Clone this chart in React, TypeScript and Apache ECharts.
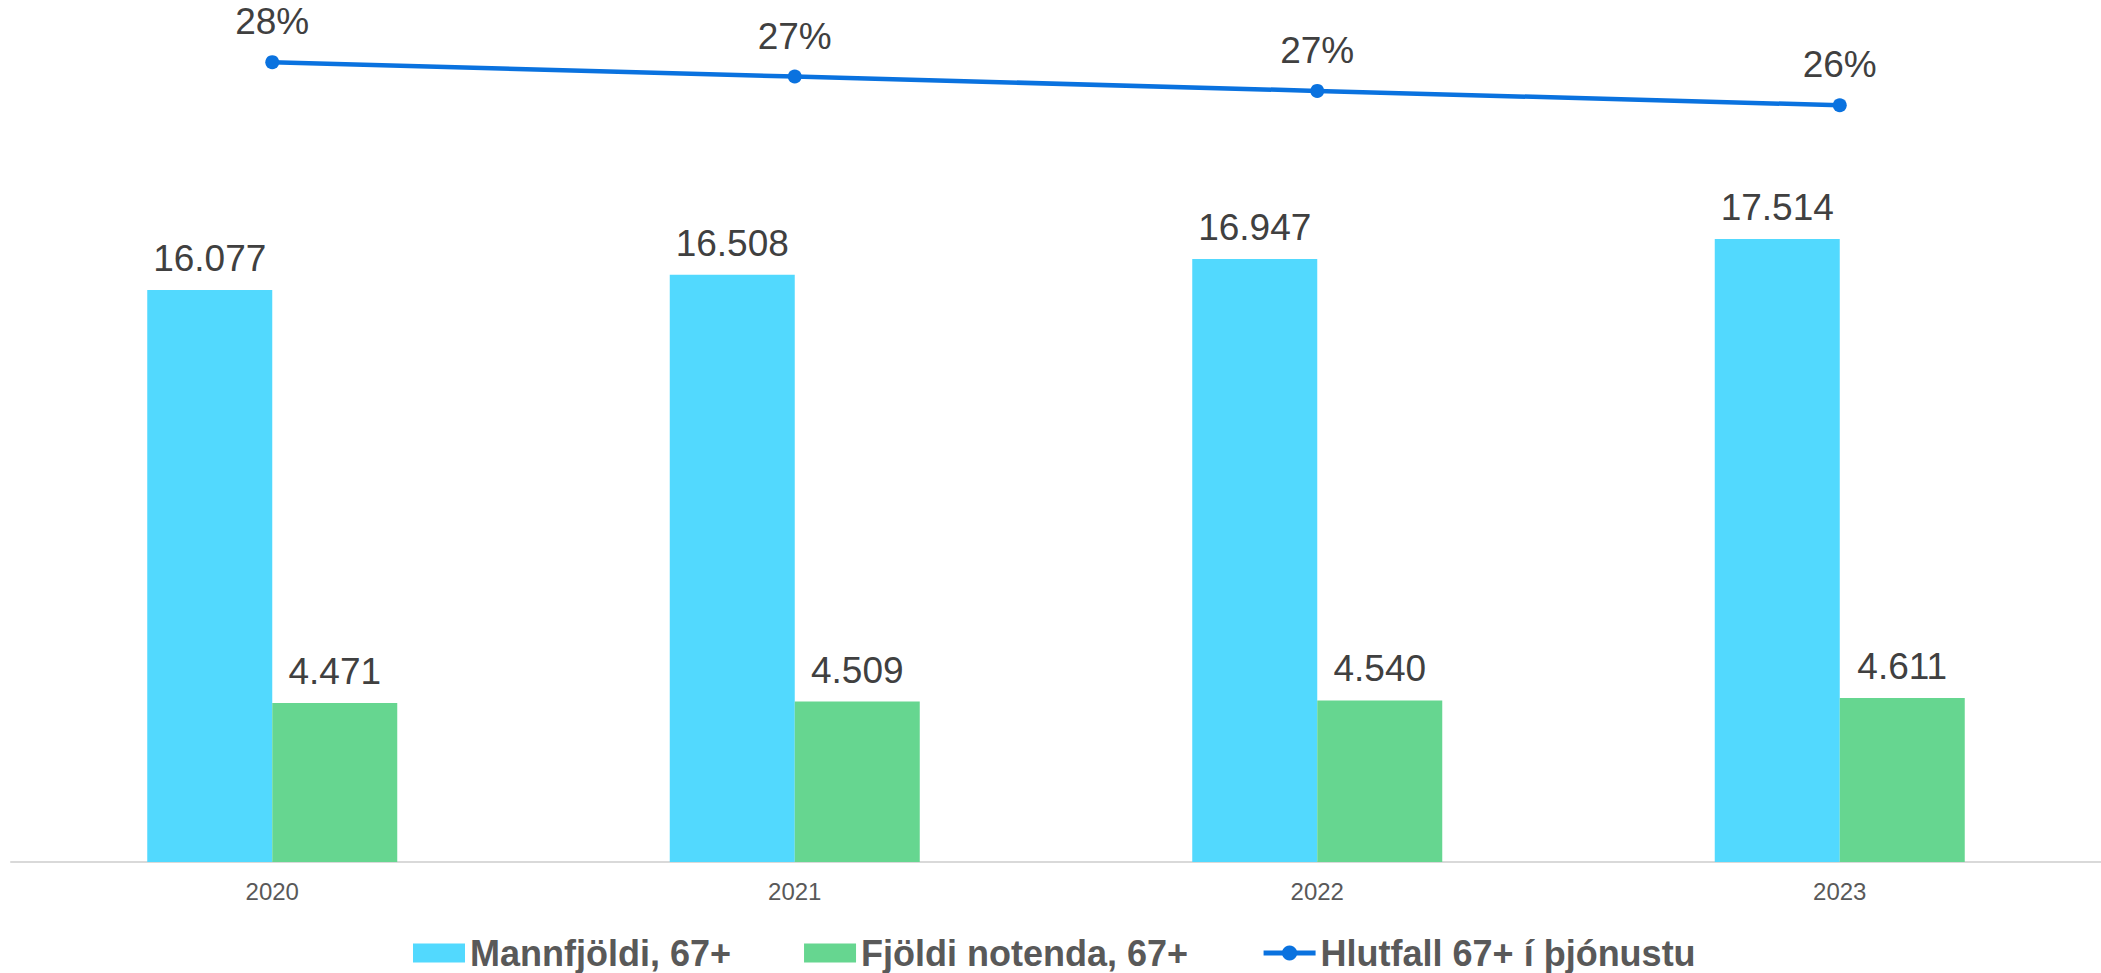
import React, { useEffect, useRef } from "react";
import * as echarts from "echarts";

const years = ["2020", "2021", "2022", "2023"];
const mannfjoldi = [16077, 16508, 16947, 17514];
const fjoldiNotenda = [4471, 4509, 4540, 4611];
const hlutfall = [0.278, 0.273, 0.268, 0.263];

const seriesNames = ["Mannfjöldi, 67+", "Fjöldi notenda, 67+", "Hlutfall 67+ í þjónustu"];

const FONT = "'Liberation Sans', Arial, sans-serif";
const BLUE = "#52D9FE";
const GREEN = "#66D690";
const LINE = "#0A72DF";

const fmtThousands = (v: number) =>
  String(Math.round(v)).replace(/\B(?=(\d{3})+(?!\d))/g, ".");

export default function App() {
  const ref = useRef<HTMLDivElement>(null);
  useEffect(() => {
    if (!ref.current) return;
    const chart = echarts.init(ref.current, undefined, { renderer: "svg" });
    const barLabel = {
      show: true,
      position: "top",
      distance: 13,
      fontFamily: FONT,
      fontSize: 37,
      color: "#404040",
      formatter: (p: any) => fmtThousands(p.value),
    };
    chart.setOption({
      animation: false,
      backgroundColor: "#ffffff",
      textStyle: { fontFamily: FONT },
      grid: { left: 11, right: 0, top: 0, bottom: 111, containLabel: false },
      legend: {
        top: 930,
        left: 408,
        itemWidth: 52,
        itemHeight: 19,
        itemGap: 73,
        data: [
          { name: seriesNames[0], icon: "rect" },
          { name: seriesNames[1], icon: "rect" },
          { name: seriesNames[2], lineStyle: { width: 5, color: LINE }, itemStyle: { color: LINE } },
        ],
        textStyle: { fontFamily: FONT, fontSize: 36, fontWeight: "bold", color: "#595959" },
      },
      xAxis: {
        type: "category",
        data: years,
        axisLine: { lineStyle: { color: "#D9D9D9", width: 2 } },
        axisTick: { show: false },
        axisLabel: { fontFamily: FONT, fontSize: 24, color: "#595959", margin: 17 },
      },
      yAxis: [
        { type: "value", min: 0, max: 24230, show: false, splitLine: { show: false } },
        { type: "value", min: 0, max: 0.2996, show: false, splitLine: { show: false } },
      ],
      series: [
        {
          name: seriesNames[0],
          type: "bar",
          data: mannfjoldi,
          barWidth: 125,
          barGap: "0%",
          itemStyle: { color: BLUE },
          label: barLabel,
        },
        {
          name: seriesNames[1],
          type: "bar",
          data: fjoldiNotenda,
          barWidth: 125,
          barGap: "0%",
          itemStyle: { color: GREEN },
          label: barLabel,
        },
        {
          name: seriesNames[2],
          type: "line",
          yAxisIndex: 1,
          data: hlutfall,
          symbol: "circle",
          symbolSize: 14,
          clip: false,
          z: 5,
          itemStyle: { color: LINE },
          lineStyle: { color: LINE, width: 4.5 },
          label: {
            show: true,
            position: "top",
            distance: 15,
            fontFamily: FONT,
            fontSize: 37,
            color: "#404040",
            formatter: (p: any) => Math.round(p.value * 100) + "%",
          },
        },
      ],
    });
    return () => chart.dispose();
  }, []);
  return (
    <div
      ref={ref}
      style={{ position: "absolute", left: 0, top: 0, width: 2101, height: 973 }}
    />
  );
}
